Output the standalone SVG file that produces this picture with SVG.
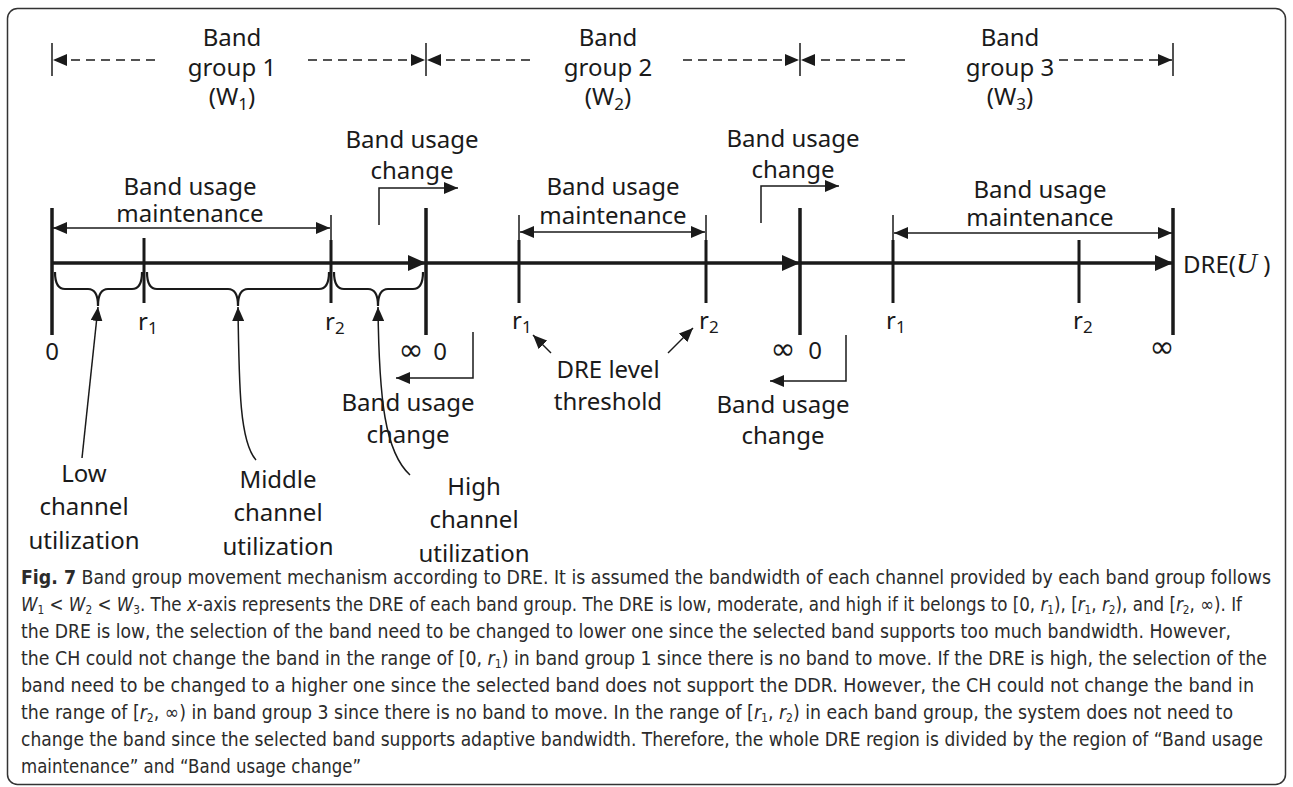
<svg xmlns="http://www.w3.org/2000/svg" width="1293" height="787" viewBox="0 0 1293 787">
<defs>
<style>
.t{font-family:"Noto Sans","DejaVu Sans",sans-serif;font-size:24px;fill:#1a1a1a;text-anchor:middle}
.inf{font-size:30px}
.r{font-family:"Noto Sans","DejaVu Sans",sans-serif;font-size:24px;fill:#1a1a1a}
.cap{font-family:"Liberation Sans Narrow","DejaVu Sans Condensed","Noto Sans",sans-serif;font-size:19px;fill:#2b2b2b}
.thick{stroke:#1a1a1a;stroke-width:3.5;fill:none}
.tick{stroke:#1a1a1a;stroke-width:3;fill:none}
.thin{stroke:#1a1a1a;stroke-width:1.5;fill:none}
.dash{stroke:#1a1a1a;stroke-width:1.5;stroke-dasharray:9 6;fill:none}
.brace{stroke:#1a1a1a;stroke-width:2.2;fill:none}
</style>
<marker id="ah" markerWidth="14" markerHeight="12" viewBox="0 0 14 12" refX="14" refY="6" orient="auto-start-reverse" markerUnits="userSpaceOnUse"><path d="M0,0 L14,6 L0,12 Z" fill="#1a1a1a"/></marker>
<marker id="big" markerWidth="18" markerHeight="16" viewBox="0 0 18 16" refX="18" refY="8" orient="auto" markerUnits="userSpaceOnUse"><path d="M0,0 L18,8 L0,16 Z" fill="#1a1a1a"/></marker>
</defs>
<rect x="7.5" y="8.5" width="1278" height="776" rx="10" fill="#fff" stroke="#333" stroke-width="1.5"/>

<g id="connectors">
  <!-- header band group spans -->
  <path class="thin" d="M52,43 V76 M426,43 V76 M800,43 V76 M1173,43 V76"/>
  <path class="dash" d="M155,60 H53" marker-end="url(#ah)"/>
  <path class="dash" d="M308,60 H425" marker-end="url(#ah)"/>
  <path class="dash" d="M530,60 H427" marker-end="url(#ah)"/>
  <path class="dash" d="M683,60 H799" marker-end="url(#ah)"/>
  <path class="dash" d="M905,60 H801" marker-end="url(#ah)"/>
  <path class="dash" d="M1059,60 H1172" marker-end="url(#ah)"/>
  <!-- main axis -->
  <path class="thick" d="M52,263 H426" marker-end="url(#big)"/>
  <path class="thick" d="M426,263 H800" marker-end="url(#big)"/>
  <path class="thick" d="M800,263 H1173" marker-end="url(#big)"/>
  <!-- major boundaries -->
  <path class="thick" d="M52,208 V335 M426,208 V335 M800,208 V335 M1173,208 V335"/>
  <!-- minor ticks -->
  <path class="tick" d="M144,238 V303 M331,240 V303 M519,240 V303 M706,240 V303 M893,240 V303 M1079,240 V303"/>
  <path class="thin" d="M331,215 V240 M519,215 V240 M706,215 V240 M893,215 V240"/>
  <!-- maintenance dimension arrows -->
  <path class="thin" d="M53,228 H330" marker-start="url(#ah)" marker-end="url(#ah)"/>
  <path class="thin" d="M520,232 H705" marker-start="url(#ah)" marker-end="url(#ah)"/>
  <path class="thin" d="M894,233 H1172" marker-start="url(#ah)" marker-end="url(#ah)"/>
  <!-- braces -->
  <path class="brace" d="M55,272 Q55,289 65,289 L88,289 Q98,289 98,306 Q98,289 108,289 L132,289 Q142,289 142,272"/>
  <path class="brace" d="M147,272 Q147,289 157,289 L228,289 Q238,289 238,306 Q238,289 248,289 L319,289 Q329,289 329,272"/>
  <path class="brace" d="M334,272 Q334,289 344,289 L368,289 Q378,289 378,306 Q378,289 388,289 L413,289 Q423,289 423,272"/>
  <!-- pointers to braces -->
  <path class="thin" d="M82,458 L98,307" marker-end="url(#ah)"/>
  <path class="thin" d="M256,460 C240,442 239,390 238,307" marker-end="url(#ah)"/>
  <path class="thin" d="M410,475 C385,452 379,400 378,307" marker-end="url(#ah)"/>
  <!-- band usage change elbows -->
  <path class="thin" d="M379,225 V188 H458" marker-end="url(#ah)"/>
  <path class="thin" d="M761,223 V186 H839" marker-end="url(#ah)"/>
  <path class="thin" d="M473,332 V378 H396" marker-end="url(#ah)"/>
  <path class="thin" d="M846,335 V381 H770" marker-end="url(#ah)"/>
  <!-- DRE level threshold pointers -->
  <path class="thin" d="M551,353 L533,335" marker-end="url(#ah)"/>
  <path class="thin" d="M668,353 L693,328" marker-end="url(#ah)"/>
</g>

<g id="band-group-1">
  <text class="t" x="232" y="46">Band</text>
  <text class="t" x="232" y="76">group 1</text>
  <text class="t" x="232" y="105">(W<tspan font-size="17" dy="5">1</tspan><tspan dy="-5">)</tspan></text>
</g>
<g id="band-group-2">
  <text class="t" x="608" y="46">Band</text>
  <text class="t" x="608" y="76">group 2</text>
  <text class="t" x="608" y="105">(W<tspan font-size="17" dy="5">2</tspan><tspan dy="-5">)</tspan></text>
</g>
<g id="band-group-3">
  <text class="t" x="1010" y="46">Band</text>
  <text class="t" x="1010" y="76">group 3</text>
  <text class="t" x="1010" y="105">(W<tspan font-size="17" dy="5">3</tspan><tspan dy="-5">)</tspan></text>
</g>

<g id="maintenance-1">
  <text class="t" x="190" y="195">Band usage</text>
  <text class="t" x="190" y="222">maintenance</text>
</g>
<g id="maintenance-2">
  <text class="t" x="613" y="195">Band usage</text>
  <text class="t" x="613" y="224">maintenance</text>
</g>
<g id="maintenance-3">
  <text class="t" x="1040" y="198">Band usage</text>
  <text class="t" x="1040" y="226">maintenance</text>
</g>

<g id="change-up-1">
  <text class="t" x="412" y="148">Band usage</text>
  <text class="t" x="412" y="179">change</text>
</g>
<g id="change-up-2">
  <text class="t" x="793" y="147">Band usage</text>
  <text class="t" x="793" y="178">change</text>
</g>
<g id="change-down-1">
  <text class="t" x="408" y="411">Band usage</text>
  <text class="t" x="408" y="443">change</text>
</g>
<g id="change-down-2">
  <text class="t" x="783" y="413">Band usage</text>
  <text class="t" x="783" y="444">change</text>
</g>

<g id="axis-labels">
  <text class="t" x="52" y="360">0</text>
  <text class="t inf" x="411" y="360">∞</text>
  <text class="t" x="440" y="360">0</text>
  <text class="t inf" x="783" y="359">∞</text>
  <text class="t" x="815" y="359">0</text>
  <text class="t inf" x="1162" y="357">∞</text>
  <text class="r" x="138" y="330">r<tspan font-size="17" dy="4">1</tspan></text>
  <text class="r" x="325" y="330">r<tspan font-size="17" dy="4">2</tspan></text>
  <text class="r" x="512" y="329">r<tspan font-size="17" dy="4">1</tspan></text>
  <text class="r" x="699" y="329">r<tspan font-size="17" dy="4">2</tspan></text>
  <text class="r" x="886" y="329">r<tspan font-size="17" dy="4">1</tspan></text>
  <text class="r" x="1073" y="329">r<tspan font-size="17" dy="4">2</tspan></text>
  <text class="r" x="1183" y="273">DRE(<tspan font-family="Liberation Serif,serif" font-style="italic" font-size="29">U</tspan> )</text>
</g>

<g id="threshold">
  <text class="t" x="608" y="378">DRE level</text>
  <text class="t" x="608" y="410">threshold</text>
</g>

<g id="low">
  <text class="t" x="84" y="482">Low</text>
  <text class="t" x="84" y="515">channel</text>
  <text class="t" x="84" y="549">utilization</text>
</g>
<g id="middle">
  <text class="t" x="278" y="488">Middle</text>
  <text class="t" x="278" y="521">channel</text>
  <text class="t" x="278" y="555">utilization</text>
</g>
<g id="high">
  <text class="t" x="474" y="495">High</text>
  <text class="t" x="474" y="528">channel</text>
  <text class="t" x="474" y="562">utilization</text>
</g>

<g id="caption">
  <text class="cap" x="21" y="584" textLength="1250" lengthAdjust="spacingAndGlyphs"><tspan font-weight="bold">Fig. 7</tspan> Band group movement mechanism according to DRE. It is assumed the bandwidth of each channel provided by each band group follows</text>
  <text class="cap" x="21" y="611" textLength="1221" lengthAdjust="spacingAndGlyphs"><tspan font-style="italic">W</tspan><tspan font-size="12" dy="3">1</tspan><tspan dy="-3"> &lt; </tspan><tspan font-style="italic">W</tspan><tspan font-size="12" dy="3">2</tspan><tspan dy="-3"> &lt; </tspan><tspan font-style="italic">W</tspan><tspan font-size="12" dy="3">3</tspan><tspan dy="-3">. The </tspan><tspan font-style="italic">x</tspan>-axis represents the DRE of each band group. The DRE is low, moderate, and high if it belongs to [0, <tspan font-style="italic">r</tspan><tspan font-size="12" dy="3">1</tspan><tspan dy="-3">), [</tspan><tspan font-style="italic">r</tspan><tspan font-size="12" dy="3">1</tspan><tspan dy="-3">, </tspan><tspan font-style="italic">r</tspan><tspan font-size="12" dy="3">2</tspan><tspan dy="-3">), and [</tspan><tspan font-style="italic">r</tspan><tspan font-size="12" dy="3">2</tspan><tspan dy="-3">, ∞). If</tspan></text>
  <text class="cap" x="21" y="638" textLength="1210" lengthAdjust="spacingAndGlyphs">the DRE is low, the selection of the band need to be changed to lower one since the selected band supports too much bandwidth. However,</text>
  <text class="cap" x="21" y="665" textLength="1246" lengthAdjust="spacingAndGlyphs">the CH could not change the band in the range of [0, <tspan font-style="italic">r</tspan><tspan font-size="12" dy="3">1</tspan><tspan dy="-3">) in band group 1 since there is no band to move. If the DRE is high, the selection of the</tspan></text>
  <text class="cap" x="21" y="692" textLength="1233" lengthAdjust="spacingAndGlyphs">band need to be changed to a higher one since the selected band does not support the DDR. However, the CH could not change the band in</text>
  <text class="cap" x="21" y="719" textLength="1212" lengthAdjust="spacingAndGlyphs">the range of [<tspan font-style="italic">r</tspan><tspan font-size="12" dy="3">2</tspan><tspan dy="-3">, ∞) in band group 3 since there is no band to move. In the range of [</tspan><tspan font-style="italic">r</tspan><tspan font-size="12" dy="3">1</tspan><tspan dy="-3">, </tspan><tspan font-style="italic">r</tspan><tspan font-size="12" dy="3">2</tspan><tspan dy="-3">) in each band group, the system does not need to</tspan></text>
  <text class="cap" x="21" y="746" textLength="1242" lengthAdjust="spacingAndGlyphs">change the band since the selected band supports adaptive bandwidth. Therefore, the whole DRE region is divided by the region of “Band usage</text>
  <text class="cap" x="21" y="773" textLength="340" lengthAdjust="spacingAndGlyphs">maintenance” and “Band usage change”</text>
</g>
</svg>
